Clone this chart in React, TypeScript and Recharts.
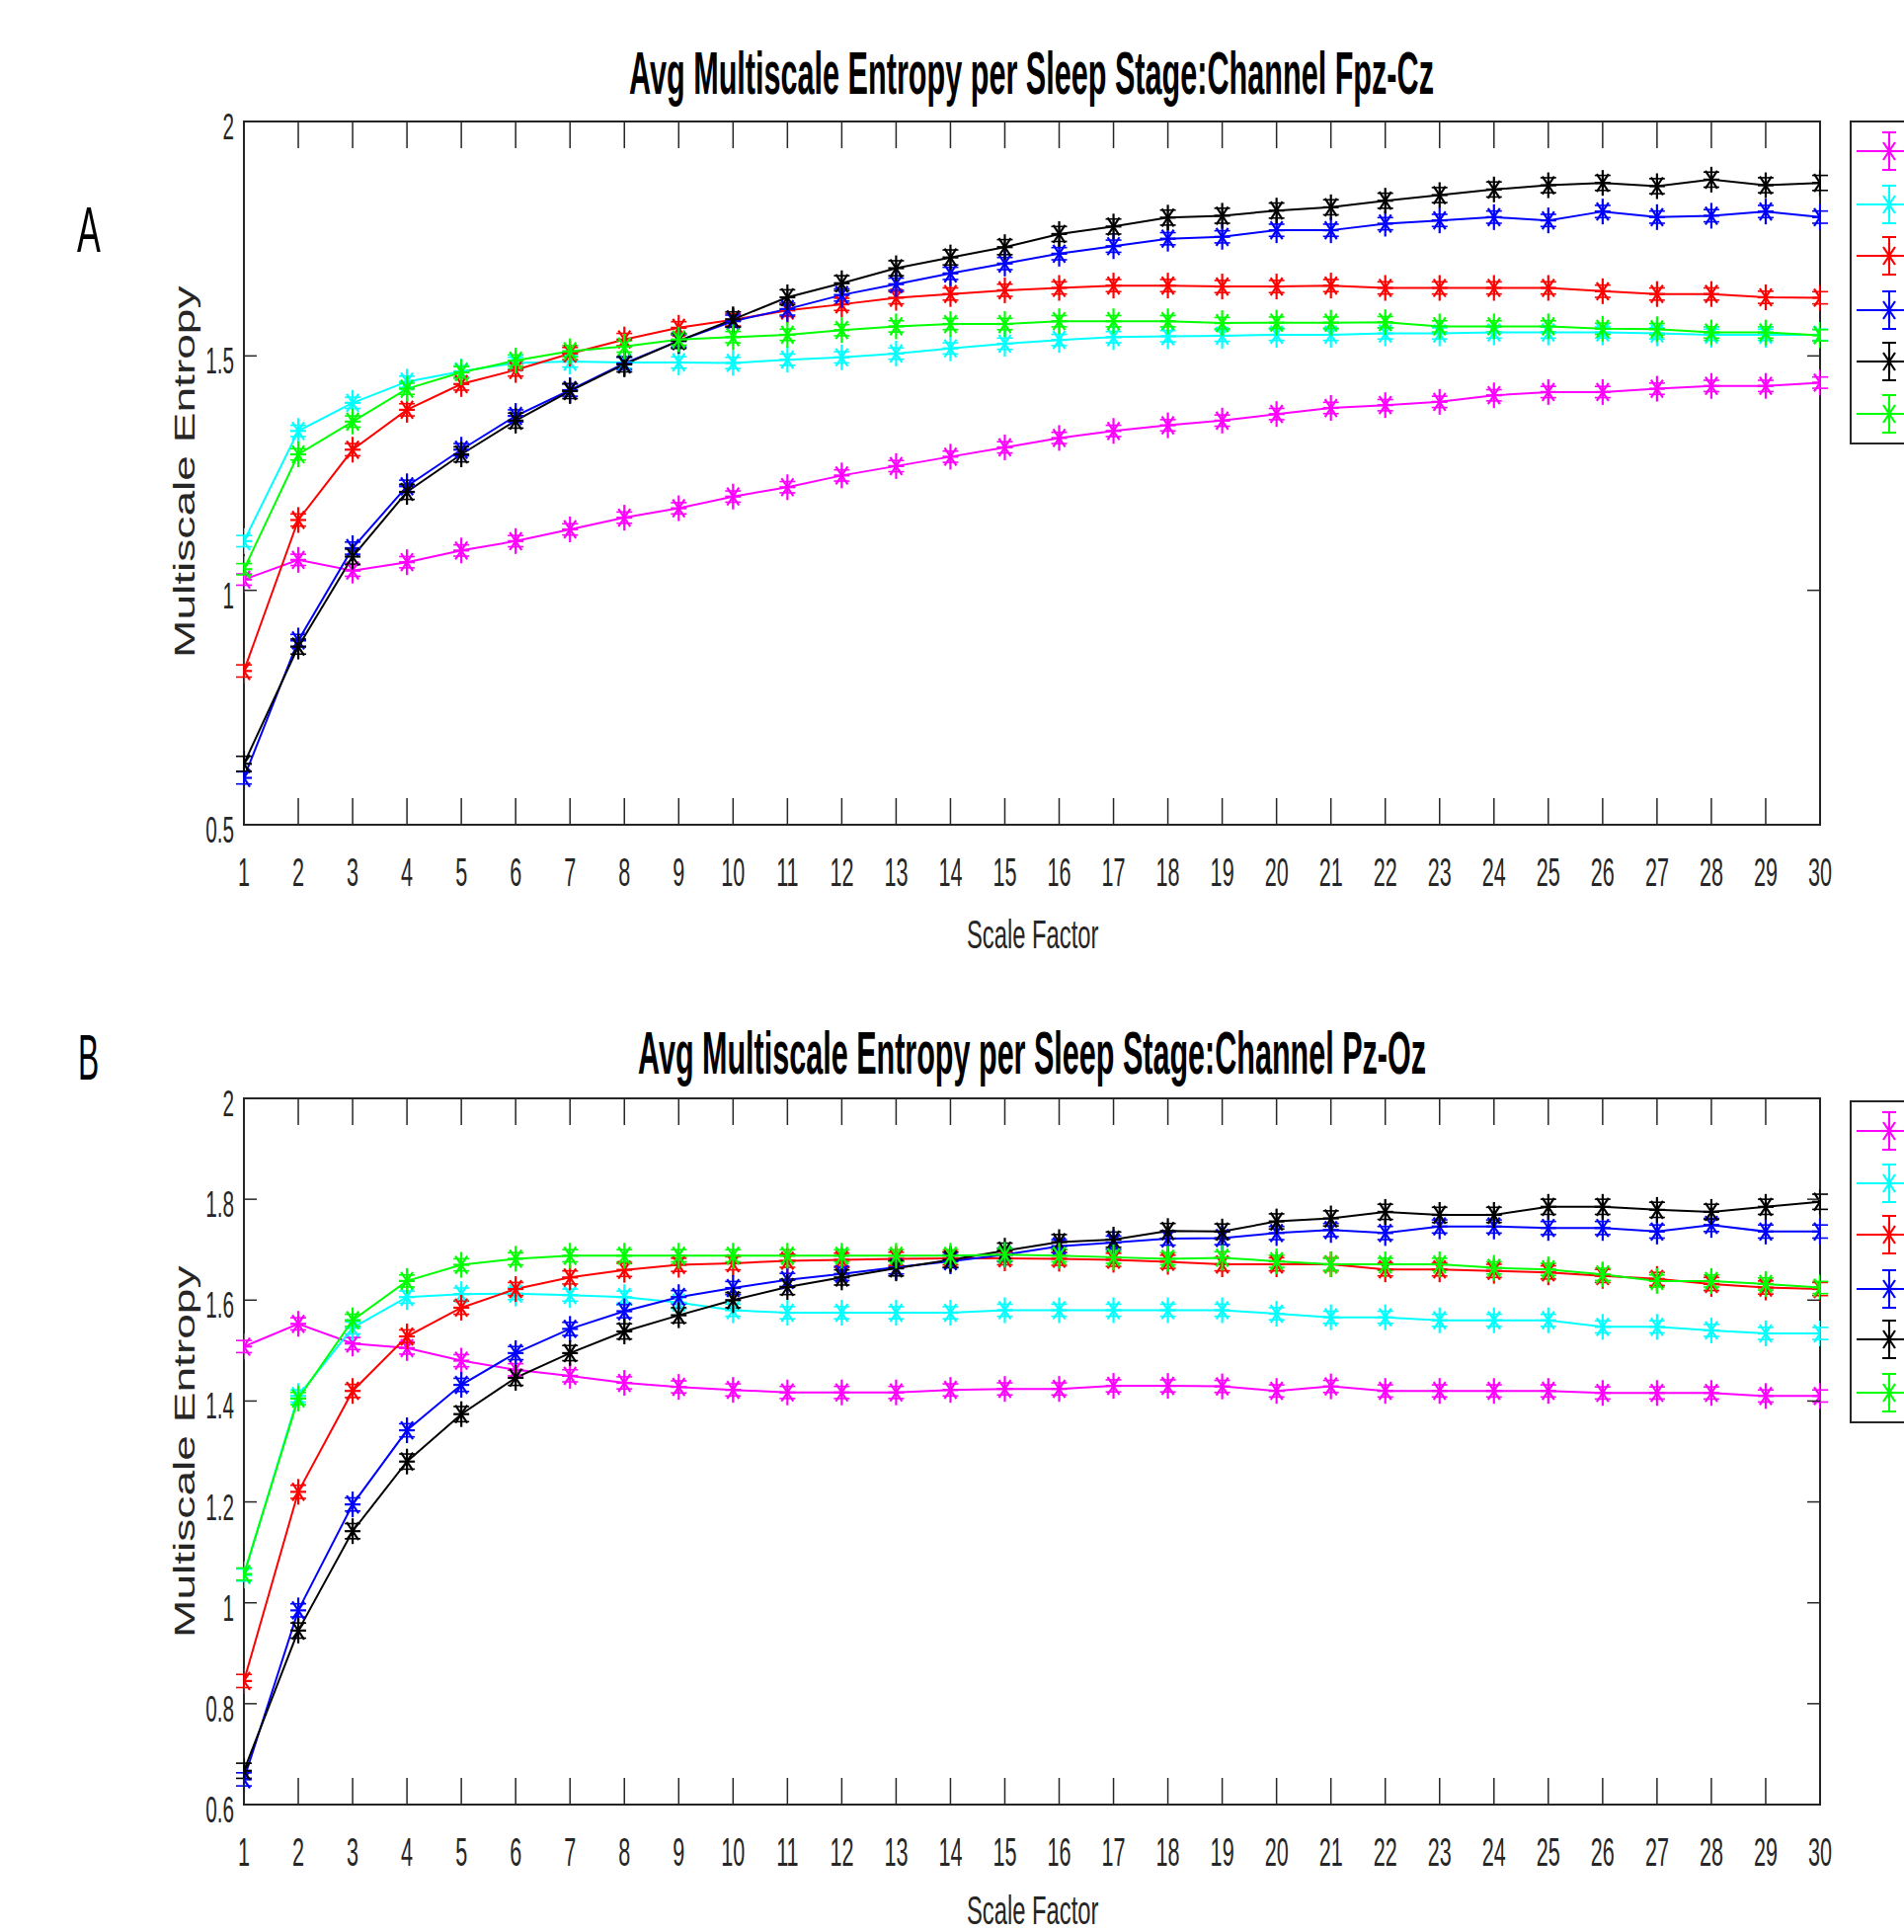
import React from 'react';
import { LineChart, Line, XAxis, YAxis, ErrorBar, ReferenceArea } from 'recharts';

// ---------- data ----------
const scaleFactors = [1, 2, 3, 4, 5, 6, 7, 8, 9, 10, 11, 12, 13, 14, 15, 16, 17, 18, 19, 20, 21, 22, 23, 24, 25, 26, 27, 28, 29, 30];

const seriesKeys = ['magenta', 'cyan', 'red', 'blue', 'black', 'green'];
const seriesColors = ['#ff00ff', '#00ffff', '#ff0000', '#0000ff', '#000000', '#00ff00'];

const titleA = 'Avg Multiscale Entropy per Sleep Stage:Channel Fpz-Cz';
const titleB = 'Avg Multiscale Entropy per Sleep Stage:Channel Pz-Oz';
const xLabel = 'Scale Factor';
const yLabel = 'Multiscale Entropy';

const yTicksA = [0.5, 1, 1.5, 2];
const yTicksB = [0.6, 0.8, 1, 1.2, 1.4, 1.6, 1.8, 2];

// Panel A : Channel Fpz-Cz
const aMagenta = [1.023, 1.065, 1.042, 1.06, 1.085, 1.105, 1.13, 1.155, 1.175, 1.2, 1.22, 1.245, 1.265, 1.285, 1.305, 1.325, 1.34, 1.352, 1.362, 1.376, 1.389, 1.395, 1.402, 1.416, 1.423, 1.423, 1.43, 1.436, 1.436, 1.443];
const aCyan = [1.105, 1.34, 1.4, 1.445, 1.467, 1.485, 1.488, 1.486, 1.486, 1.485, 1.492, 1.497, 1.505, 1.516, 1.526, 1.534, 1.54, 1.542, 1.543, 1.545, 1.545, 1.548, 1.548, 1.55, 1.55, 1.55, 1.548, 1.545, 1.545, 1.545];
const aRed = [0.828, 1.15, 1.3, 1.385, 1.44, 1.47, 1.505, 1.535, 1.56, 1.577, 1.597, 1.61, 1.624, 1.632, 1.64, 1.645, 1.65, 1.65, 1.648, 1.648, 1.65, 1.645, 1.645, 1.645, 1.645, 1.638, 1.632, 1.632, 1.625, 1.624];
const aBlue = [0.6, 0.893, 1.09, 1.222, 1.3, 1.372, 1.427, 1.484, 1.532, 1.574, 1.6, 1.63, 1.653, 1.676, 1.697, 1.718, 1.734, 1.75, 1.754, 1.768, 1.768, 1.782, 1.789, 1.796, 1.789, 1.808, 1.796, 1.799, 1.808, 1.796];
const aBlack = [0.63, 0.88, 1.072, 1.21, 1.29, 1.362, 1.425, 1.482, 1.532, 1.578, 1.625, 1.655, 1.687, 1.71, 1.732, 1.76, 1.776, 1.795, 1.799, 1.81, 1.817, 1.831, 1.843, 1.855, 1.864, 1.869, 1.862, 1.876, 1.864, 1.869];
const aGreen = [1.045, 1.29, 1.36, 1.43, 1.465, 1.49, 1.51, 1.52, 1.535, 1.54, 1.545, 1.555, 1.563, 1.568, 1.568, 1.574, 1.574, 1.574, 1.57, 1.571, 1.571, 1.572, 1.563, 1.563, 1.563, 1.558, 1.557, 1.55, 1.55, 1.544];
const aErrors = [0.012, 0.012, 0.013, 0.013, 0.016, 0.012];

// Panel B : Channel Pz-Oz
const bMagenta = [1.508, 1.553, 1.514, 1.505, 1.48, 1.462, 1.45, 1.436, 1.428, 1.422, 1.417, 1.417, 1.417, 1.422, 1.424, 1.424, 1.43, 1.43, 1.429, 1.42, 1.429, 1.42, 1.42, 1.42, 1.42, 1.416, 1.416, 1.416, 1.41, 1.41];
const bCyan = [1.055, 1.41, 1.545, 1.606, 1.612, 1.613, 1.61, 1.606, 1.595, 1.58, 1.575, 1.575, 1.575, 1.575, 1.58, 1.58, 1.58, 1.58, 1.58, 1.573, 1.566, 1.566, 1.56, 1.56, 1.56, 1.547, 1.547, 1.54, 1.534, 1.534];
const bRed = [0.845, 1.22, 1.42, 1.528, 1.585, 1.622, 1.645, 1.66, 1.67, 1.673, 1.678, 1.68, 1.682, 1.683, 1.683, 1.682, 1.68, 1.676, 1.671, 1.671, 1.671, 1.661, 1.661, 1.658, 1.655, 1.648, 1.642, 1.632, 1.625, 1.622];
const bBlue = [0.65, 0.985, 1.195, 1.342, 1.432, 1.495, 1.543, 1.578, 1.606, 1.624, 1.64, 1.652, 1.665, 1.677, 1.69, 1.707, 1.714, 1.722, 1.723, 1.733, 1.739, 1.733, 1.746, 1.746, 1.743, 1.743, 1.736, 1.749, 1.736, 1.736];
const bBlack = [0.667, 0.945, 1.142, 1.28, 1.374, 1.446, 1.495, 1.538, 1.57, 1.6, 1.626, 1.645, 1.663, 1.68, 1.698, 1.715, 1.72, 1.737, 1.736, 1.756, 1.762, 1.775, 1.769, 1.769, 1.785, 1.785, 1.779, 1.775, 1.785, 1.795];
const bGreen = [1.057, 1.405, 1.56, 1.638, 1.67, 1.682, 1.688, 1.688, 1.688, 1.688, 1.688, 1.688, 1.688, 1.688, 1.69, 1.688, 1.685, 1.682, 1.684, 1.677, 1.671, 1.671, 1.671, 1.664, 1.661, 1.651, 1.638, 1.638, 1.632, 1.625];
const bErrors = [0.012, 0.012, 0.013, 0.013, 0.015, 0.012];

function buildRows(values: number[][], errors: number[]) {
  return scaleFactors.map((s, i) => {
    const row: any = { scale: s };
    seriesKeys.forEach((k, j) => {
      row[k] = values[j][i];
      row[k + 'Err'] = errors[j];
    });
    return row;
  });
}

const rowsA = buildRows([aMagenta, aCyan, aRed, aBlue, aBlack, aGreen], aErrors);
const rowsB = buildRows([bMagenta, bCyan, bRed, bBlue, bBlack, bGreen], bErrors);

// ---------- styling ----------
const FONT = "'Liberation Sans', Arial, Helvetica, sans-serif";
const AXIS_COLOR = '#262626';
const SX = 0.54;

function XTick(props: any) {
  const { x, y, payload, plotHeight } = props;
  return (
    <g>
      <line x1={x} y1={y} x2={x} y2={y - 27} stroke={AXIS_COLOR} strokeWidth={1.5} />
      <line x1={x} y1={y - plotHeight} x2={x} y2={y - plotHeight + 27} stroke={AXIS_COLOR} strokeWidth={1.5} />
      <text
        transform={`translate(${x},${y + 62}) scale(${SX},1)`}
        textAnchor="middle"
        fontSize={40}
        fontFamily={FONT}
        fill={AXIS_COLOR}
      >
        {String(payload.value)}
      </text>
    </g>
  );
}

function YTick(props: any) {
  const { x, y, payload, plotWidth } = props;
  return (
    <g>
      <line x1={x} y1={y} x2={x + 13} y2={y} stroke={AXIS_COLOR} strokeWidth={1.5} />
      <line x1={x + plotWidth} y1={y} x2={x + plotWidth - 13} y2={y} stroke={AXIS_COLOR} strokeWidth={1.5} />
      <text
        transform={`translate(${x - 10},${y + 18}) scale(${SX + 0.02},1)`}
        textAnchor="end"
        fontSize={37}
        fontFamily={FONT}
        fill={AXIS_COLOR}
      >
        {String(payload.value)}
      </text>
    </g>
  );
}

function StarMark({ cx, cy, color }: { cx: number; cy: number; color: string }) {
  return (
    <g stroke={color} strokeWidth={2.2} fill="none">
      <line x1={cx} y1={cy - 13} x2={cx} y2={cy + 13} />
      <line x1={cx - 8} y1={cy} x2={cx + 8} y2={cy} />
      <line x1={cx - 6} y1={cy - 9} x2={cx + 6} y2={cy + 9} />
      <line x1={cx - 6} y1={cy + 9} x2={cx + 6} y2={cy - 9} />
    </g>
  );
}

function makeDot(color: string) {
  return (p: any) => {
    if (p.cx == null || p.cy == null) return <g key={`d-${p.index}`} />;
    return <StarMark key={`d-${color}-${p.index}`} cx={p.cx} cy={p.cy} color={color} />;
  };
}

const PLOT_LEFT = 247;
const PLOT_RIGHT = 1843;
const PLOT_W = PLOT_RIGHT - PLOT_LEFT;

function Panel({ rows, height, top, bottom, yDomain, yTicks }: any) {
  const plotHeight = height - top - bottom - 60;
  return (
    <LineChart
      width={1928}
      height={height}
      data={rows}
      margin={{ top, right: 1928 - PLOT_RIGHT, bottom, left: PLOT_LEFT - 60 }}
    >
      <XAxis
        dataKey="scale"
        type="number"
        domain={[1, 30]}
        ticks={scaleFactors}
        interval={0}
        height={60}
        tickSize={0}
        tickMargin={0}
        tickLine={false}
        axisLine={false}
        allowDataOverflow
        tick={<XTick plotHeight={plotHeight} />}
      />
      <YAxis
        type="number"
        domain={yDomain}
        ticks={yTicks}
        interval={0}
        width={60}
        tickSize={0}
        tickMargin={0}
        tickLine={false}
        axisLine={false}
        allowDataOverflow
        tick={<YTick plotWidth={PLOT_W} />}
      />
      <ReferenceArea
        x1={1}
        x2={30}
        y1={yDomain[0]}
        y2={yDomain[1]}
        fill="none"
        fillOpacity={0}
        stroke={AXIS_COLOR}
        strokeWidth={2}
        strokeOpacity={1}
        ifOverflow="visible"
      />
      {seriesKeys.map((k, j) => (
        <Line
          key={k}
          type="linear"
          dataKey={k}
          stroke={seriesColors[j]}
          strokeWidth={2}
          dot={makeDot(seriesColors[j])}
          activeDot={false}
          isAnimationActive={false}
        >
          <ErrorBar dataKey={k + 'Err'} width={8} stroke={seriesColors[j]} strokeWidth={1.6} direction="y" />
        </Line>
      ))}
    </LineChart>
  );
}

function LegendBox({ top, height, rowYs }: { top: number; height: number; rowYs: number[] }) {
  return (
    <g>
      <rect x={1874} y={top} width={120} height={height} fill="#fff" stroke={AXIS_COLOR} strokeWidth={2} />
      {seriesColors.map((c, i) => {
        const y = rowYs[i];
        return (
          <g key={c} stroke={c} strokeWidth={2}>
            <line x1={1880} y1={y} x2={1940} y2={y} />
            <line x1={1913} y1={y - 19} x2={1913} y2={y + 19} />
            <line x1={1906} y1={y - 19} x2={1920} y2={y - 19} />
            <line x1={1906} y1={y + 19} x2={1920} y2={y + 19} />
            <StarMark cx={1913} cy={y} color={c} />
          </g>
        );
      })}
    </g>
  );
}

const legendRowsA = [153, 207, 259, 314, 366, 419];
const legendRowsB = [1145, 1198, 1250, 1305, 1356, 1410];

export default function App() {
  return (
    <div style={{ position: 'absolute', left: 0, top: 0, width: 1928, height: 1956, background: '#ffffff', overflow: 'hidden' }}>
      <div style={{ position: 'absolute', left: 0, top: 0 }}>
        <Panel rows={rowsA} height={980} top={123} bottom={85} yDomain={[0.5, 2]} yTicks={yTicksA} />
      </div>
      <div style={{ position: 'absolute', left: 0, top: 980 }}>
        <Panel rows={rowsB} height={976} top={132} bottom={69} yDomain={[0.6, 2]} yTicks={yTicksB} />
      </div>
      <svg
        width={1928}
        height={1956}
        style={{ position: 'absolute', left: 0, top: 0, pointerEvents: 'none' }}
        fontFamily={FONT}
      >
        <text transform="translate(637,95) scale(0.493,1)" fontSize={62} fontWeight="bold" fill="#000" textLength={1653} lengthAdjust="spacingAndGlyphs">{titleA}</text>
        <text transform="translate(646,1087) scale(0.492,1)" fontSize={62} fontWeight="bold" fill="#000" textLength={1622} lengthAdjust="spacingAndGlyphs">{titleB}</text>

        <text transform="translate(78,255) scale(0.55,1)" fontSize={65} fill="#000">A</text>
        <text transform="translate(79,1093) scale(0.49,1)" fontSize={65} fill="#000">B</text>

        <text transform="translate(197,666) rotate(-90) scale(1.59,1)" fontSize={29} fill={AXIS_COLOR}>{yLabel}</text>
        <text transform="translate(197,1658) rotate(-90) scale(1.59,1)" fontSize={29} fill={AXIS_COLOR}>{yLabel}</text>

        <text transform="translate(979,960) scale(0.58,1)" fontSize={41} fill={AXIS_COLOR}>{xLabel}</text>
        <text transform="translate(979,1948) scale(0.58,1)" fontSize={41} fill={AXIS_COLOR}>{xLabel}</text>

        <LegendBox top={123} height={326} rowYs={legendRowsA} />
        <LegendBox top={1115} height={325} rowYs={legendRowsB} />
      </svg>
    </div>
  );
}
